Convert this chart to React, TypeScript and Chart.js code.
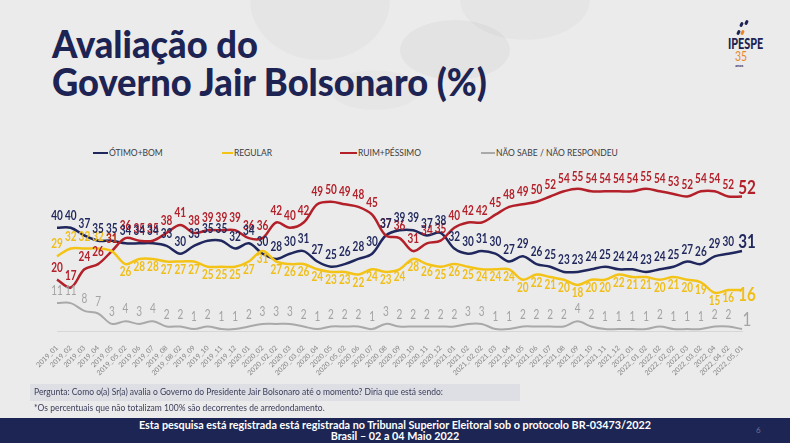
import React, { useEffect, useRef } from "react";
import { Chart, registerables } from "chart.js";

Chart.register(...registerables);

const categories = [
  "2019_01", "2019_02", "2019_03", "2019_04", "2019_05", "2019_05_02", "2019_06", "2019_07",
  "2019_08", "2019_08_02", "2019_09", "2019_10", "2019_11", "2019_12",
  "2020_01", "2020_02", "2020_02_02", "2020_03", "2020_03_02", "2020_04", "2020_05", "2020_05_02",
  "2020_06", "2020_07", "2020_08", "2020_09", "2020_10", "2020_11", "2020_12",
  "2021_01", "2021_02", "2021_02_02", "2021_03", "2021_04", "2021_05", "2021_06", "2021_07",
  "2021_08", "2021_09", "2021_10", "2021_11", "2021_12",
  "2022_01", "2022_01_02", "2022_02", "2022_02_02", "2022_03", "2022_03_02", "2022_04", "2022_04_02", "2022_05_01",
];

const otimoBom = [
  40, 40, 37, 35, 35, 34, 34, 34, 33, 30, 33, 35, 35, 32, 34, 30, 28, 30, 31, 27,
  25, 26, 28, 30, 37, 39, 39, 37, 38, 32, 30, 31, 30, 27, 29, 26, 25, 23, 23, 24,
  25, 24, 24, 23, 24, 25, 27, 26, 29, 30, 31,
];

const regular = [
  29, 32, 32, 32, 31, 26, 28, 28, 27, 27, 27, 25, 25, 25, 27, 31, 27, 26, 26, 24,
  23, 23, 22, 24, 23, 24, 28, 26, 25, 26, 25, 24, 24, 24, 20, 22, 21, 20, 18, 20,
  20, 22, 21, 21, 20, 21, 20, 19, 15, 16, 16,
];

const ruimPessimo = [
  20, 17, 24, 26, 31, 36, 35, 35, 38, 41, 38, 39, 39, 39, 36, 36, 42, 40, 42, 49,
  50, 49, 48, 45, 37, 36, 31, 34, 35, 40, 42, 42, 45, 48, 49, 50, 52, 54, 55, 54,
  54, 54, 54, 55, 54, 53, 52, 54, 54, 52, 52,
];

const naoSabe = [
  11, 11, 8, 7, 3, 4, 3, 4, 2, 2, 1, 2, 1, 1, 2, 3, 3, 3, 2, 1,
  2, 2, 2, 1, 3, 2, 2, 2, 2, 2, 3, 3, 1, 1, 2, 2, 2, 2, 4, 2,
  1, 1, 1, 1, 2, 1, 1, 1, 2, 2, 1,
];

const seriesNames = ["ÓTIMO+BOM", "REGULAR", "RUIM+PÉSSIMO", "NÃO SABE / NÃO RESPONDEU"];

const NAVY = "#1f275c";
const YELLOW = "#f3c417";
const RED = "#b3202a";
const GREY = "#a9a9a9";

const FONT = "Lato, 'Open Sans', sans-serif";

const valueLabels = {
  id: "valueLabels",
  afterDatasetsDraw(chart: any) {
    const ctx = chart.ctx;
    chart.data.datasets.forEach((ds: any, di: number) => {
      const meta = chart.getDatasetMeta(di);
      const n = ds.data.length;
      meta.data.forEach((pt: any, i: number) => {
        const last = i === n - 1;
        const below = ds.labelBelowFrom !== undefined && i >= ds.labelBelowFrom;
        ctx.save();
        const size = last ? 19 : 12.5;
        ctx.font = `${ds.labelWeight} ${size}px ${FONT}`;
        ctx.fillStyle = ds.labelColor;
        ctx.textAlign = "center";
        ctx.textBaseline = "middle";
        const dy = below ? (last ? 5 : 8) : (last ? -9 : -12);
        ctx.translate(pt.x + (last ? 5 : 0), pt.y + dy);
        ctx.scale(0.8, 1);
        ctx.fillText(String(ds.data[i]), 0, 0);
        ctx.restore();
      });
    });
  },
};

function ChartCanvas() {
  const ref = useRef<HTMLCanvasElement | null>(null);
  useEffect(() => {
    if (!ref.current) return;
    const chart = new Chart(ref.current, {
      type: "line",
      data: {
        labels: categories,
        datasets: [
          { label: seriesNames[3], data: naoSabe, borderColor: GREY, borderWidth: 2, labelColor: "#a3a3a3", labelWeight: "normal" } as any,
          { label: seriesNames[1], data: regular, borderColor: YELLOW, borderWidth: 2.5, labelColor: "#efbe18", labelWeight: "bold", labelBelowFrom: 5 } as any,
          { label: seriesNames[2], data: ruimPessimo, borderColor: RED, borderWidth: 2.5, labelColor: RED, labelWeight: "bold" } as any,
          { label: seriesNames[0], data: otimoBom, borderColor: NAVY, borderWidth: 2.5, labelColor: NAVY, labelWeight: "bold" } as any,
        ],
      },
      options: {
        responsive: false,
        animation: false,
        events: [],
        layout: { padding: { left: 57, right: 48, top: 175.7, bottom: 0 } },
        elements: {
          point: { radius: 0, hoverRadius: 0 },
          line: { tension: 0.35, fill: false },
        },
        plugins: {
          legend: { display: false },
          tooltip: { enabled: false },
          title: { display: false },
        },
        scales: {
          y: { display: false, min: 0, max: 60 },
          x: {
            offset: false,
            grid: { display: false },
            border: { display: true, color: "#d6d6d6", width: 1 },
            ticks: {
              autoSkip: false,
              maxRotation: 45,
              minRotation: 45,
              padding: 4,
              color: "#858585",
              font: { size: 7, family: FONT },
            },
            afterFit: (scale: any) => {
              scale.height = 443 - 331.7;
            },
          },
        },
      },
      plugins: [valueLabels],
    });
    return () => chart.destroy();
  }, []);
  return (
    <canvas ref={ref} width={790} height={443} style={{ position: "absolute", left: 0, top: 0, width: 790, height: 443 }} />
  );
}

const legendItems = [
  { name: seriesNames[0], color: NAVY, x: 93, w: 15 },
  { name: seriesNames[1], color: YELLOW, x: 222, w: 11 },
  { name: seriesNames[2], color: RED, x: 340, w: 17 },
  { name: seriesNames[3], color: GREY, x: 481, w: 14 },
];

const titleStyle: React.CSSProperties = {
  position: "absolute",
  left: 52,
  fontSize: 37,
  lineHeight: "37px",
  fontWeight: 900,
  color: "#1d2352",
  whiteSpace: "nowrap",
  transform: "scaleX(0.98)",
  transformOrigin: "left top",
};

export default function App() {
  return (
    <div
      style={{
        position: "absolute",
        left: 0,
        top: 0,
        width: 790,
        height: 443,
        overflow: "hidden",
        background: "#ebebeb",
        fontFamily: FONT,
      }}
    >
      {/* faint decorative shapes */}
      <div style={{ position: "absolute", left: 250, top: -60, width: 140, height: 120, borderRadius: "50%", background: "rgba(0,0,0,0.025)" }} />
      <div style={{ position: "absolute", left: 400, top: 20, width: 110, height: 60, borderRadius: "50%", background: "rgba(0,0,0,0.03)" }} />
      <div style={{ position: "absolute", left: 460, top: -40, width: 130, height: 80, borderRadius: "50%", background: "rgba(0,0,0,0.025)" }} />
      <div style={{ position: "absolute", left: 330, top: 70, width: 90, height: 40, borderRadius: "50%", background: "rgba(0,0,0,0.02)" }} />

      <div style={{ ...titleStyle, top: 25 }}>Avaliação do</div>
      <div style={{ ...titleStyle, top: 63 }}>Governo Jair Bolsonaro (%)</div>

      {/* logo */}
      <div style={{ position: "absolute", left: 740, top: 22, width: 3, height: 5, background: "#1d2352", borderRadius: 2, transform: "rotate(25deg)" }} />
      <div style={{ position: "absolute", left: 745, top: 20, width: 3, height: 5, background: "#1d2352", borderRadius: 2, transform: "rotate(25deg)" }} />
      <div style={{ position: "absolute", left: 737, top: 30, width: 3, height: 5, background: "#1d2352", borderRadius: 2, transform: "rotate(25deg)" }} />
      <div style={{ position: "absolute", left: 741, top: 30, width: 3, height: 5, background: "#e8862a", borderRadius: 2, transform: "rotate(25deg)" }} />
      <div style={{ position: "absolute", left: 728, top: 36, fontSize: 15, lineHeight: "15px", fontWeight: 900, color: "#1d2352", transform: "scaleX(0.72)", transformOrigin: "left top" }}>IPESPE</div>
      <div style={{ position: "absolute", left: 735, top: 50, fontSize: 13, lineHeight: "13px", fontWeight: 400, color: "#e8862a", transform: "scaleX(0.8)", transformOrigin: "left top" }}>35</div>
      <div style={{ position: "absolute", left: 735, top: 64, fontSize: 4, lineHeight: "4px", fontWeight: 700, color: "#1d2352" }}>anos</div>

      {/* legend */}
      {legendItems.map((it) => (
        <div key={it.name} style={{ position: "absolute", left: it.x, top: 147, height: 12, display: "flex", alignItems: "center", whiteSpace: "nowrap" }}>
          <div style={{ width: it.w, height: 2.5, background: it.color }} />
          <div style={{ fontSize: 8.5, color: "#3c3c3c", marginLeft: 1 }}>{it.name}</div>
        </div>
      ))}

      <ChartCanvas />

      {/* question */}
      <div style={{ position: "absolute", left: 30, top: 384, width: 490, height: 17, background: "#dedfe5" }} />
      <div style={{ position: "absolute", left: 34, top: 387, fontSize: 8.5, lineHeight: "11px", color: "#3b3d5a", whiteSpace: "nowrap" }}>
        Pergunta: Como o(a) Sr(a) avalia o Governo do Presidente Jair Bolsonaro até o momento? Diria que está sendo:
      </div>
      <div style={{ position: "absolute", left: 34, top: 403, fontSize: 8.5, lineHeight: "11px", color: "#3b3d5a", whiteSpace: "nowrap" }}>
        *Os percentuais que não totalizam 100% são decorrentes de arredondamento.
      </div>

      {/* footer */}
      <div style={{ position: "absolute", left: 0, top: 418, width: 790, height: 25, background: "#1c2553" }} />
      <div style={{ position: "absolute", left: 0, top: 420, width: 790, textAlign: "center", fontSize: 10.8, lineHeight: "10px", fontWeight: 700, color: "#ffffff", whiteSpace: "nowrap" }}>
        Esta pesquisa está registrada está registrada no Tribunal Superior Eleitoral sob o protocolo BR-03473/2022
      </div>
      <div style={{ position: "absolute", left: 0, top: 431, width: 790, textAlign: "center", fontSize: 10.8, lineHeight: "10px", fontWeight: 700, color: "#ffffff", whiteSpace: "nowrap" }}>
        Brasil – 02 a 04 Maio 2022
      </div>
      <div style={{ position: "absolute", left: 756, top: 425, fontSize: 8, color: "#6d7396" }}>6</div>
    </div>
  );
}
